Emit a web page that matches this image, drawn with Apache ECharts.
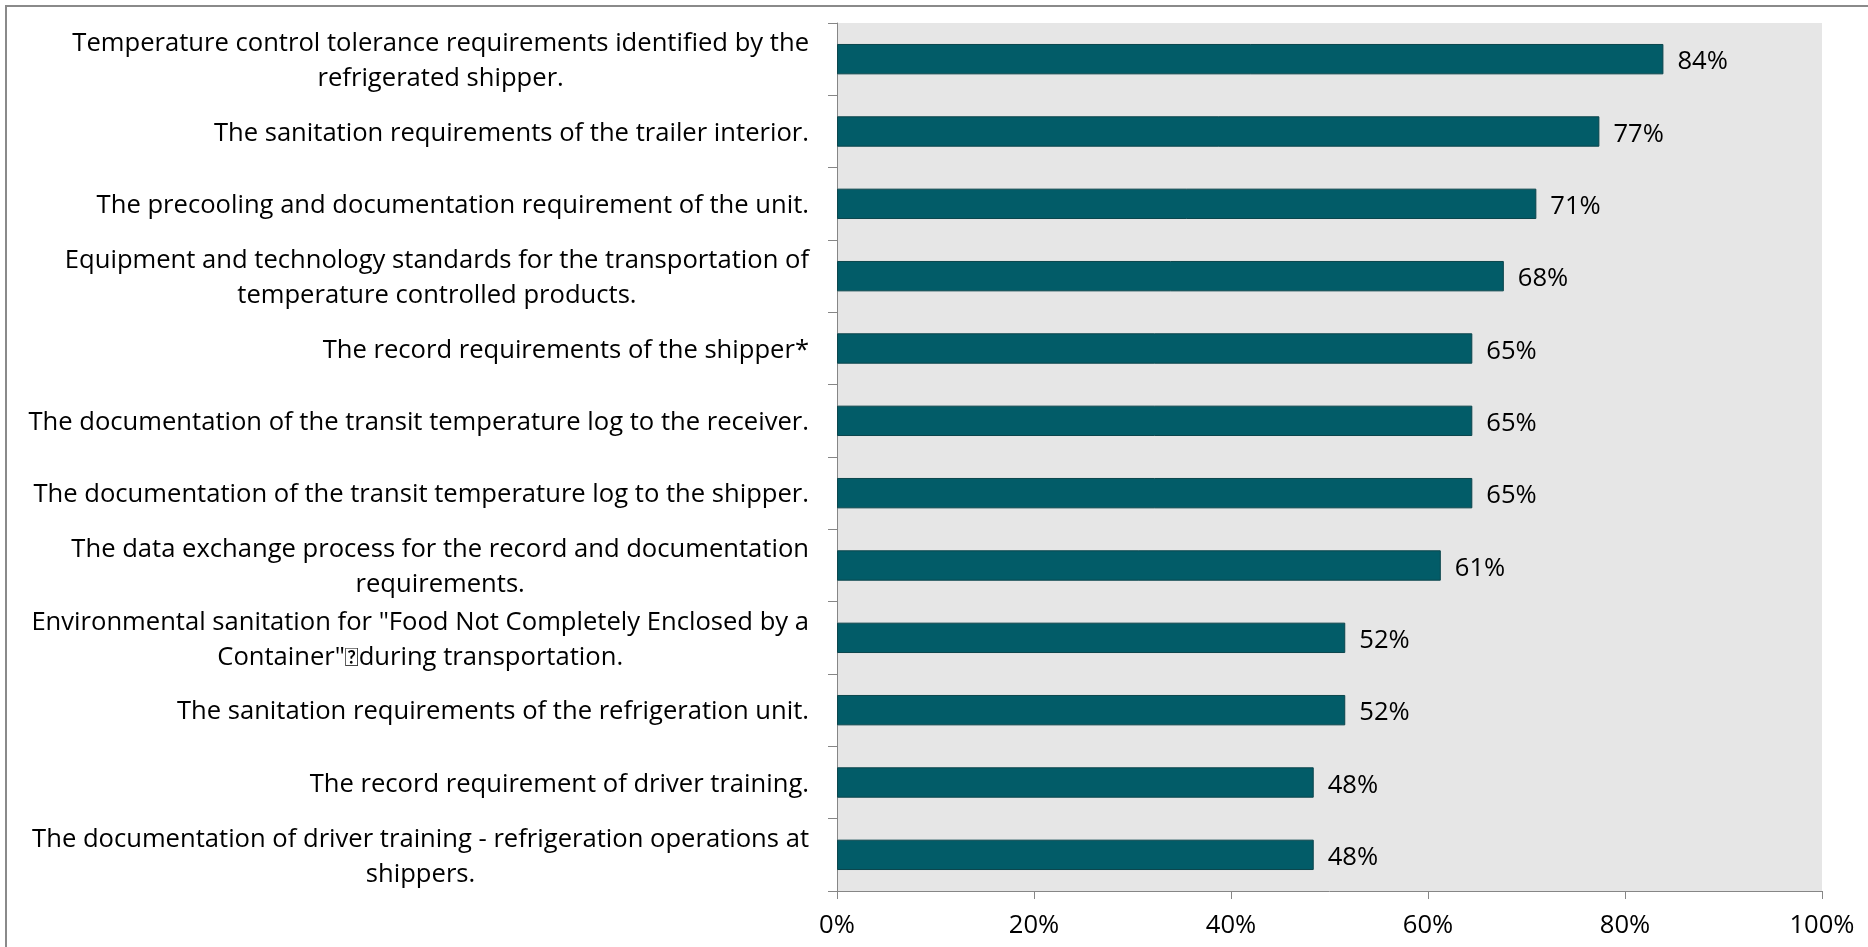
<!DOCTYPE html>
<html>
<head>
<meta charset="utf-8">
<script src="https://cdn.jsdelivr.net/npm/echarts@6/dist/echarts.min.js"></script>
<style>
html,body{margin:0;padding:0;background:#fff;}
#chart{width:1868px;height:947px;}
</style>
</head>
<body>
<div id="chart"></div>
<script>
const categories = [
  'Temperature control tolerance requirements identified by the\nrefrigerated shipper.',
  'The sanitation requirements of the trailer interior.',
  'The precooling and documentation requirement of the unit.',
  'Equipment and technology standards for the transportation of\ntemperature controlled products.',
  'The record requirements of the shipper*',
  'The documentation of the transit temperature log to the receiver.',
  'The documentation of the transit temperature log to the shipper.',
  'The data exchange process for the record and documentation\nrequirements.',
  'Environmental sanitation for "Food Not Completely Enclosed by a\nContainer"\uF0B3during transportation.',
  'The sanitation requirements of the refrigeration unit.',
  'The record requirement of driver training.',
  'The documentation of driver training - refrigeration operations at\nshippers.'
];
const values = [83.9, 77.4, 71.0, 67.7, 64.5, 64.5, 64.5, 61.3, 51.6, 51.6, 48.4, 48.4];
const xTickLabels = ['0%', '20%', '40%', '60%', '80%', '100%'];

const FONT = '"Open Sans"';
const FS = 25.6;
const chart = echarts.init(document.getElementById('chart'));
chart.setOption({
  backgroundColor: '#ffffff',
  animation: false,
  graphic: [{
    type: 'rect', silent: true, z: 100,
    shape: { x: 6, y: 6, width: 1950, height: 1000 },
    style: { fill: 'none', stroke: '#8a8a8a', lineWidth: 2 }
  }],
  grid: {
    left: 837, right: 46, top: 23, bottom: 56,
    show: true, backgroundColor: '#e6e6e6', borderWidth: 0
  },
  xAxis: {
    type: 'value', min: 0, max: 100, interval: 20,
    axisLine: { show: true, lineStyle: { color: '#868686', width: 1 } },
    axisTick: { show: true, length: 8, lineStyle: { color: '#868686' } },
    splitLine: { show: false },
    axisLabel: {
      margin: 22, color: '#000', fontFamily: FONT, fontSize: FS,
      formatter: v => xTickLabels[Math.round(v / 20)]
    }
  },
  yAxis: {
    type: 'category', inverse: true, data: categories,
    axisLine: { show: true, lineStyle: { color: '#868686', width: 1 } },
    axisTick: { show: true, length: 9, lineStyle: { color: '#868686' } },
    axisLabel: {
      margin: 28, interval: 0, padding: [4, 0, 0, 0],
      formatter: v => v.split('\n').map(l => '{c|' + l.replace('\uF0B3', '}{b|\uF0B3}{c|') + '}').join('\n'),
      rich: {
        c: { align: 'center', color: '#000', fontFamily: FONT, fontSize: FS, lineHeight: 35 },
        b: { align: 'center', color: '#000', fontFamily: 'Lato', fontSize: FS, lineHeight: 35 }
      }
    }
  },
  series: [{
    type: 'bar', data: values, barCategoryGap: '58%',
    itemStyle: { color: '#025c68', borderColor: '#0b454c', borderWidth: 1 },
    label: {
      show: true, position: 'right', distance: 14, offset: [0, 3],
      color: '#000', fontFamily: FONT, fontSize: FS,
      formatter: p => Math.round(p.value) + '%'
    }
  }]
});
</script>
</body>
</html>
